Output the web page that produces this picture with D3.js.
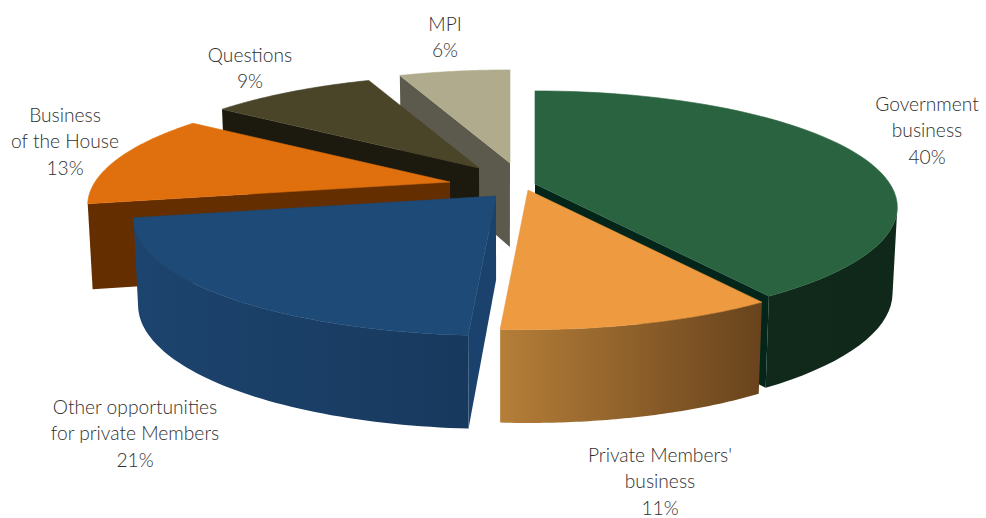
<!DOCTYPE html>
<html>
<head>
<meta charset="utf-8">
<script src="https://cdn.jsdelivr.net/npm/d3@7"></script>
<style>
  html, body { margin: 0; padding: 0; background: #fff; }
  svg { display: block; }
  text { font-family: Lato, "Open Sans", sans-serif; font-size: 19.2px; font-weight: 300; fill: #2f2f2f; }
</style>
</head>
<body>
<div id="chart"></div>
<script>
// Share of time in the House, values as labelled
const categories = ['Government business', "Private Members' business", 'Other opportunities for private Members', 'Business of the House', 'Questions', 'MPI'];
const values = [40, 11, 21, 13, 9, 6];
const labelLines = [
    ['Government', 'business'],
    ["Private Members'", 'business'],
    ['Other opportunities', 'for private Members'],
    ['Business', 'of the House'],
    ['Questions'],
    ['MPI']
];

const width = 986, height = 518;

// Layout of the exploded slices and labels (same order as categories)
const apexX = [535, 528, 496, 450, 479, 510];
const apexY = [184, 190, 196, 182, 168, 163];
const labelX = [927, 660, 135, 65, 250, 445];
const labelY = [111, 462, 414, 122, 62, 31];

// Colours: top face, outer wall left/right, cut wall
const topColor = ['#2a6340', '#ed9a40', '#1d4a76', '#e0700d', '#4a4429', '#b0ab8c'];
const wallLeft = ['#11291a', '#b57e38', '#1c446e', '#652e00', '#1c1a0f', '#5c5a4c'];
const wallRight = ['#10281a', '#68431d', '#18395e', '#652e00', '#1c1a0f', '#5c5a4c'];
const cutColor = ['#03251a', '#68431d', '#1a426c', '#652e00', '#1c1a0f', '#5c5a4c'];

// Ground plane perspective
const radius = 355, planeH = 111.7, persp = 0.2, depth = 84;
const project = a => {
    // the front right quarter reads a few degrees further round than the share
    const t = a > Math.PI / 2 && a < Math.PI ? a + 0.05 * Math.sin(2 * (a - Math.PI / 2)) : a;
    const u = Math.sin(t), v = Math.cos(t);
    const w = 1 + persp * v;
    return {dx: radius * u / w, dy: -planeH * v / w, drop: depth / (1 + 0.1 * v), v};
};

const svg = d3.select('#chart').append('svg')
    .attr('width', width)
    .attr('height', height);
const defs = svg.append('defs');

const pie = d3.pie().sort(null).value(d => d);
const arcs = pie(values);
const line = d3.line();

// Back slices first, front ones last
const drawOrder = [5, 4, 3, 2, 0, 1];

drawOrder.forEach(i => {
    const d = arcs[i];
    const ax = apexX[i], ay = apexY[i];
    const steps = d3.range(0, 61).map(s => d.startAngle + (d.endAngle - d.startAngle) * s / 60);
    const rim = steps.map(a => {
        const p = project(a);
        return {x: ax + p.dx, y: ay + p.dy, drop: p.drop, v: p.v};
    });
    const lower = q => [q.x + (500 - q.x) * 0.012, q.y + q.drop];
    const g = svg.append('g').attr('class', 'slice');

    // Outer wall, only the part of the rim that faces us
    const front = rim.filter(q => q.v <= -persp);
    if (front.length > 1) {
        const xs = d3.extent(front, q => q.x);
        defs.append('linearGradient')
            .attr('id', 'wall' + i)
            .attr('gradientUnits', 'userSpaceOnUse')
            .attr('x1', xs[0]).attr('x2', xs[1])
            .attr('y1', 0).attr('y2', 0)
            .call(lg => lg.append('stop').attr('offset', 0).attr('stop-color', wallLeft[i]))
            .call(lg => lg.append('stop').attr('offset', 1).attr('stop-color', wallRight[i]));
        const wallPts = front.map(q => [q.x, q.y]).concat(front.slice().reverse().map(lower));
        g.append('path')
            .attr('d', line(wallPts) + 'Z')
            .attr('fill', `url(#wall${i})`);
    }

    // Cut walls, only the ones that face us
    const first = rim[0], last = rim[rim.length - 1];
    const apexLow = {x: ax, y: ay, drop: depth};
    [[first, first.x < ax], [last, last.x > ax]].forEach(([q, show]) => {
        if (!show) return;
        g.append('path')
            .attr('d', line([[ax, ay], [q.x, q.y], lower(q), lower(apexLow)]) + 'Z')
            .attr('fill', cutColor[i]);
    });

    // Top face, thin stroke hides the seam against the walls
    g.append('path')
        .attr('d', line([[ax, ay]].concat(rim.map(q => [q.x, q.y]))) + 'Z')
        .attr('fill', topColor[i])
        .attr('stroke', topColor[i])
        .attr('stroke-width', 0.6);
});

// Labels
labelLines.forEach((lines, i) => {
    const t = svg.append('text')
        .attr('text-anchor', 'middle')
        .attr('y', labelY[i]);
    lines.concat(values[i] + '%').forEach((s, j) => {
        t.append('tspan')
            .attr('x', labelX[i])
            .attr('dy', j === 0 ? 0 : 26.3)
            .text(s);
    });
});
</script>
</body>
</html>
